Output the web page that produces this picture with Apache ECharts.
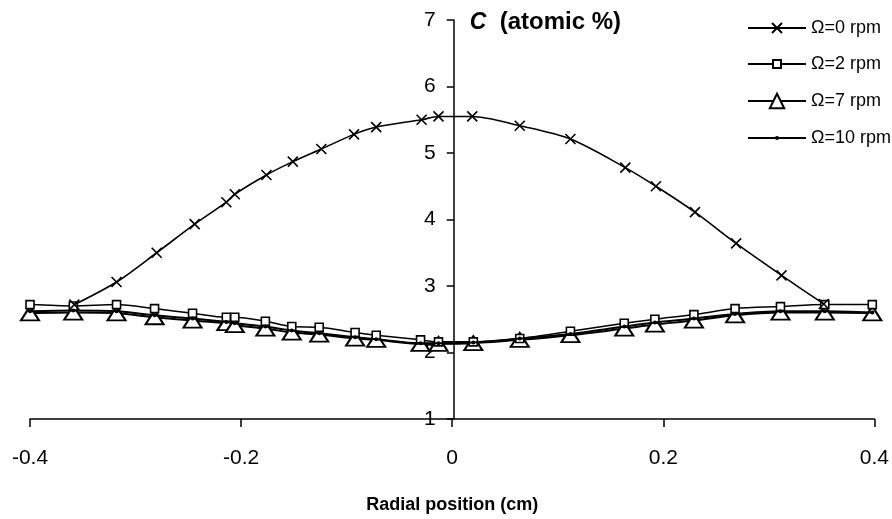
<!DOCTYPE html>
<html>
<head>
<meta charset="utf-8">
<script src="https://cdn.jsdelivr.net/npm/echarts@6/dist/echarts.min.js"></script>
<style>
html,body{margin:0;padding:0;background:#fff;}
#chart{width:892px;height:519px;}
</style>
</head>
<body>
<div id="chart"></div>
<script>
// Radial positions (cm)
const xOmega0 = [-0.358, -0.318, -0.280, -0.244, -0.214, -0.206, -0.176, -0.151, -0.124, -0.093, -0.072, -0.029, -0.013, 0.019, 0.064, 0.112, 0.164, 0.193, 0.230, 0.269, 0.312, 0.352];
const yOmega0 = [2.72, 3.06, 3.50, 3.93, 4.26, 4.38, 4.67, 4.87, 5.06, 5.28, 5.39, 5.50, 5.55, 5.55, 5.41, 5.21, 4.78, 4.50, 4.11, 3.64, 3.16, 2.73];

const xLow = [-0.400, -0.359, -0.318, -0.282, -0.246, -0.214, -0.206, -0.177, -0.152, -0.126, -0.092, -0.072, -0.030, -0.013, 0.020, 0.064, 0.112, 0.163, 0.192, 0.229, 0.268, 0.311, 0.353, 0.398];
const yOmega2 = [2.72, 2.70, 2.72, 2.66, 2.59, 2.53, 2.53, 2.47, 2.39, 2.38, 2.30, 2.26, 2.19, 2.16, 2.16, 2.21, 2.32, 2.44, 2.50, 2.57, 2.66, 2.69, 2.72, 2.72];
const yOmega7 = [2.59, 2.60, 2.59, 2.53, 2.48, 2.44, 2.41, 2.36, 2.30, 2.27, 2.21, 2.19, 2.13, 2.13, 2.14, 2.19, 2.26, 2.36, 2.42, 2.48, 2.56, 2.60, 2.60, 2.59];
const yOmega10 = [2.62, 2.63, 2.62, 2.56, 2.51, 2.46, 2.44, 2.39, 2.33, 2.29, 2.23, 2.20, 2.14, 2.14, 2.15, 2.21, 2.28, 2.39, 2.45, 2.51, 2.58, 2.62, 2.62, 2.60];

const seriesNames = ['Ω=0 rpm', 'Ω=2 rpm', 'Ω=7 rpm', 'Ω=10 rpm'];
const xTicks = [-0.4, -0.2, 0, 0.2, 0.4];
const yTicks = [1, 2, 3, 4, 5, 6, 7];

const pairs = (xs, ys) => xs.map((x, i) => [x, ys[i]]);
const font = '"Liberation Sans", Arial, sans-serif';

const W = 892, H = 519;
const gridLeft = 30, gridRight = 14.5;
const plotW = W - gridLeft - gridRight;
// distance from left grid edge to x = 0
const zeroOffset = plotW * (0 - xTicks[0]) / (xTicks[xTicks.length - 1] - xTicks[0]);

// one legend per item so each marker can have its own size
const legendCenters = [27, 63, 100, 137];
const legendIconH = [12.5, 10, 18, 5];
const legends = seriesNames.map((n, i) => ({
  orient: 'vertical',
  left: 747,
  top: legendCenters[i] - 8,
  padding: 0,
  itemWidth: 58,
  itemHeight: legendIconH[i],
  textStyle: {fontFamily: font, fontSize: 18, color: '#000'},
  data: [n]
}));

const chart = echarts.init(document.getElementById('chart'));
chart.setOption({
  backgroundColor: '#fff',
  animation: false,
  grid: {left: gridLeft, right: gridRight, top: 20, bottom: 94, containLabel: false},
  legend: legends,
  xAxis: {
    type: 'value',
    min: xTicks[0],
    max: xTicks[xTicks.length - 1],
    interval: 0.2,
    name: 'Radial position (cm)',
    nameLocation: 'middle',
    nameGap: 77,
    nameTextStyle: {fontFamily: font, fontSize: 18, fontWeight: 'bold', color: '#000'},
    axisLine: {onZero: false, lineStyle: {color: '#000', width: 1.5}},
    axisTick: {length: 8, lineStyle: {color: '#000', width: 1.5}},
    axisLabel: {margin: 29, fontFamily: font, fontSize: 21, color: '#000',
      formatter: v => (Math.abs(v) < 1e-9 ? '0' : String(+v.toFixed(1)))},
    splitLine: {show: false}
  },
  yAxis: {
    type: 'value',
    position: 'left',
    offset: -zeroOffset,
    min: yTicks[0],
    max: yTicks[yTicks.length - 1],
    interval: 1,
    name: '{i|C}  (atomic %)',
    nameLocation: 'end',
    nameGap: 0,
    nameTextStyle: {
      align: 'left', verticalAlign: 'middle', padding: [5, 0, 0, 16],
      fontFamily: font, fontSize: 24, fontWeight: 'bold', color: '#000',
      rich: {i: {fontFamily: font, fontSize: 23, fontWeight: 'bold', fontStyle: 'italic', color: '#000'}}
    },
    axisLine: {onZero: false, lineStyle: {color: '#000', width: 1.5}},
    axisTick: {length: 7, lineStyle: {color: '#000', width: 1.5}},
    axisLabel: {margin: 18, fontFamily: font, fontSize: 21, color: '#000'},
    splitLine: {show: false}
  },
  series: [
    {
      name: seriesNames[0], type: 'line', smooth: 0.3,
      data: pairs(xOmega0, yOmega0),
      symbol: 'path://M0,0L10,10M10,0L0,10', symbolSize: 10,
      lineStyle: {color: '#000', width: 1.6},
      itemStyle: {color: '#000', borderColor: '#000', borderWidth: 1.6},
      z: 5
    },
    {
      name: seriesNames[1], type: 'line', smooth: 0.3,
      data: pairs(xLow, yOmega2),
      symbol: 'rect', symbolSize: 8,
      lineStyle: {color: '#000', width: 1.5},
      itemStyle: {color: '#fff', borderColor: '#000', borderWidth: 1.6},
      z: 4
    },
    {
      name: seriesNames[2], type: 'line', smooth: 0.3,
      data: pairs(xLow, yOmega7),
      symbol: 'triangle', symbolSize: [18, 14],
      lineStyle: {color: '#000', width: 2},
      itemStyle: {color: '#fff', borderColor: '#000', borderWidth: 2},
      z: 3
    },
    {
      name: seriesNames[3], type: 'line', smooth: 0.3,
      data: pairs(xLow, yOmega10),
      symbol: 'circle', symbolSize: 4,
      lineStyle: {color: '#000', width: 2},
      itemStyle: {color: '#000', borderColor: '#000', borderWidth: 0},
      z: 6
    }
  ]
});
</script>
</body>
</html>
